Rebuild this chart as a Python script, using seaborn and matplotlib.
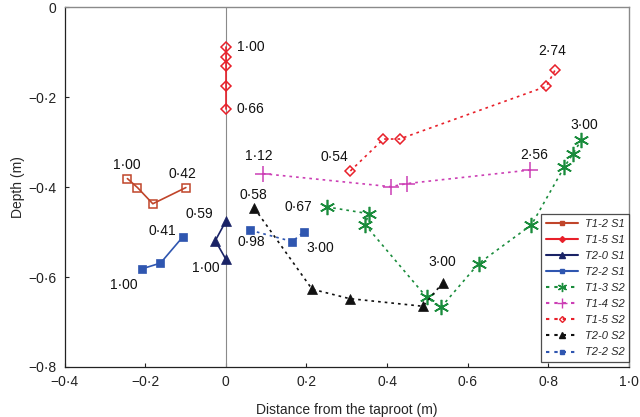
import matplotlib
matplotlib.use("Agg")
import matplotlib.pyplot as plt
import matplotlib.ticker as mticker
from matplotlib.lines import Line2D
import seaborn as sns
import pandas as pd

# ---------------- data ----------------
t12s1_x = [-0.244, -0.219, -0.181, -0.099]
t12s1_y = [-0.381, -0.401, -0.437, -0.401]
t12s1_lab = ["1·00", "", "", "0·42"]

t15s1_x = [0.0, 0.0, 0.0, 0.0, 0.0]
t15s1_y = [-0.088, -0.111, -0.130, -0.176, -0.227]
t15s1_lab = ["1·00", "", "", "", "0·66"]

t20s1_x = [0.0, -0.026, 0.0]
t20s1_y = [-0.476, -0.519, -0.560]
t20s1_lab = ["0·59", "", "1·00"]

t22s1_x = [-0.209, -0.162, -0.106]
t22s1_y = [-0.582, -0.569, -0.510]
t22s1_lab = ["1·00", "", "0·41"]

t13s2_x = [0.250, 0.354, 0.346, 0.498, 0.534, 0.627, 0.758, 0.839, 0.861, 0.882]
t13s2_y = [-0.444, -0.459, -0.484, -0.645, -0.667, -0.570, -0.484, -0.356, -0.326, -0.295]
t13s2_lab = ["0·67", "", "", "", "", "", "", "", "", "3·00"]

t14s2_x = [0.092, 0.409, 0.450, 0.754]
t14s2_y = [-0.370, -0.399, -0.392, -0.362]
t14s2_lab = ["1·12", "", "", "2·56"]

t15s2_x = [0.309, 0.391, 0.431, 0.795, 0.817]
t15s2_y = [-0.364, -0.293, -0.293, -0.176, -0.139]
t15s2_lab = ["0·54", "", "", "", "2·74"]

t20s2_x = [0.071, 0.214, 0.307, 0.489, 0.538]
t20s2_y = [-0.447, -0.627, -0.648, -0.665, -0.613]
t20s2_lab = ["0·58", "", "", "", "3·00"]

t22s2_x = [0.061, 0.165, 0.194]
t22s2_y = [-0.496, -0.521, -0.499]
t22s2_lab = ["0·98", "", "3·00"]

series_names = ["T1-2 S1", "T1-5 S1", "T2-0 S1", "T2-2 S1",
                "T1-3 S2", "T1-4 S2", "T1-5 S2", "T2-0 S2", "T2-2 S2"]
series_x = [t12s1_x, t15s1_x, t20s1_x, t22s1_x, t13s2_x, t14s2_x, t15s2_x, t20s2_x, t22s2_x]
series_y = [t12s1_y, t15s1_y, t20s1_y, t22s1_y, t13s2_y, t14s2_y, t15s2_y, t20s2_y, t22s2_y]
series_lab = [t12s1_lab, t15s1_lab, t20s1_lab, t22s1_lab, t13s2_lab, t14s2_lab,
              t15s2_lab, t20s2_lab, t22s2_lab]

x_ticks = [-0.4, -0.2, 0, 0.2, 0.4, 0.6, 0.8, 1.0]
y_ticks = [0, -0.2, -0.4, -0.6, -0.8]

# ---------------- styles ----------------
DOT = (0, (1.6, 2.4))
styles = {
    "T1-2 S1": dict(color="#C0452A", ls="-", marker="s", mfc="none", ms=6, mew=1.1),
    "T1-5 S1": dict(color="#E8202A", ls="-", marker="D", mfc="none", ms=5, mew=1.1),
    "T2-0 S1": dict(color="#1A2366", ls="-", marker="^", mfc="#1A2366", ms=7, mew=0.5),
    "T2-2 S1": dict(color="#2F56B0", ls="-", marker="s", mfc="#2F56B0", ms=6, mew=0.5),
    "T1-3 S2": dict(color="#1A8C3C", ls=DOT, marker=(6, 2, 0), mfc="none", ms=11, mew=1.2),
    "T1-4 S2": dict(color="#CC3FB5", ls=DOT, marker="+", mfc="none", ms=11, mew=1.1),
    "T1-5 S2": dict(color="#E8202A", ls=DOT, marker="D", mfc="none", ms=5, mew=1.1),
    "T2-0 S2": dict(color="#111111", ls=DOT, marker="^", mfc="#111111", ms=7, mew=0.5),
    "T2-2 S2": dict(color="#2F56B0", ls=DOT, marker="s", mfc="#2F56B0", ms=6, mew=0.5),
}
# label offsets in pixels: (dx, dy, ha)
label_off = {
    "T1-2 S1": [(-1, 14, "center"), None, None, (-3, 14, "center")],
    "T1-5 S1": [(11, 0, "left"), None, None, None, (11, 0, "left")],
    "T2-0 S1": [(-26, 7, "center"), None, (-20, -9, "center")],
    "T2-2 S1": [(-18, -16, "center"), None, (-21, 6, "center")],
    "T1-3 S2": [(-14, 0, "right")] + [None] * 8 + [(3, 15, "center")],
    "T1-4 S2": [(-4, 18, "center"), None, None, (4, 15, "center")],
    "T1-5 S2": [(-16, 14, "center"), None, None, None, (-3, 19, "center")],
    "T2-0 S2": [(-1, 13, "center"), None, None, None, (0, 21, "center")],
    "T2-2 S2": [(1, -12, "center"), None, (16, -16, "center")],
}

sns.set_style("ticks")
plt.rcParams["font.family"] = ["Liberation Sans", "DejaVu Sans"]

fig = plt.figure(figsize=(6.4, 4.17), dpi=100)
ax = fig.add_axes([0.1008, 0.12, 0.882, 0.8625])

ax.axvline(0, color="#8a8a8a", lw=0.8, zorder=1)

handles = []
for name, xs, ys, labs in zip(series_names, series_x, series_y, series_lab):
    st = styles[name]
    df = pd.DataFrame({"x": xs, "y": ys})
    sns.lineplot(data=df, x="x", y="y", sort=False, estimator=None, ax=ax,
                 color=st["color"], linestyle=st["ls"], lw=1.2,
                 marker=st["marker"], markersize=st["ms"],
                 markerfacecolor=st["mfc"], markeredgecolor=st["color"],
                 markeredgewidth=st["mew"], zorder=3)
    for i, (xv, yv, lab) in enumerate(zip(xs, ys, labs)):
        off = label_off[name][i]
        if lab and off is not None:
            dx, dy, ha = off
            ax.annotate(lab, (xv, yv), xytext=(dx, dy), textcoords="offset pixels",
                        ha=ha, va="center", fontsize=10, color="#111111")
    handles.append(Line2D([], [], color=st["color"], linestyle=st["ls"], lw=1.5,
                          marker=st["marker"], markersize=st["ms"] * 0.6,
                          markerfacecolor="none" if name == "T1-5 S2" else st["color"],
                          markeredgecolor=st["color"], markeredgewidth=1.0,
                          label=name))

ax.set_xlim(-0.4, 1.0)
ax.set_ylim(-0.8, 0)
ax.set_xticks(x_ticks)
ax.set_yticks(y_ticks)
fmt = lambda v, p: ("0" if abs(v) < 1e-9 else f"{v:.1f}".replace("-", "\u2212").replace(".", "·"))
ax.xaxis.set_major_formatter(mticker.FuncFormatter(fmt))
ax.yaxis.set_major_formatter(mticker.FuncFormatter(fmt))
ax.tick_params(direction="in", length=3, width=0.8, labelsize=10, colors="#222222", pad=6)
ax.set_xlabel("Distance from the taproot (m)", fontsize=10, labelpad=10)
ax.set_ylabel("Depth (m)", fontsize=10, labelpad=2)

for s in ["top", "right"]:
    ax.spines[s].set_visible(True)
    ax.spines[s].set_color("#8a8a8a")
    ax.spines[s].set_linewidth(1.0)
for s in ["left", "bottom"]:
    ax.spines[s].set_color("#222222")
    ax.spines[s].set_linewidth(0.9)

leg = ax.legend(handles=handles, loc="lower right", bbox_to_anchor=(1.0, 0.014),
                fontsize=8, frameon=True, fancybox=False, edgecolor="#222222",
                handlelength=2.9, borderaxespad=0.0, labelspacing=0.55,
                handletextpad=0.6, borderpad=0.4)
leg.get_frame().set_linewidth(0.9)
for t in leg.get_texts():
    t.set_fontstyle("italic")

fig.savefig("out.png", dpi=100)
